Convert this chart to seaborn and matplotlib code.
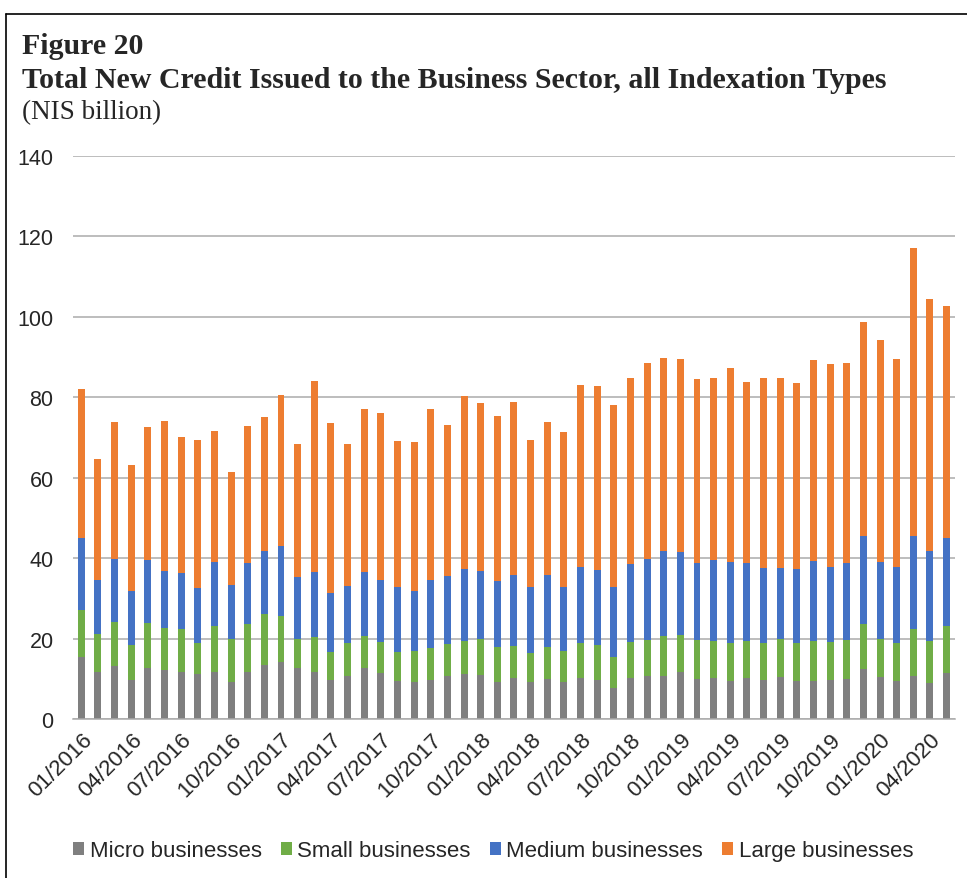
import numpy as np
import pandas as pd
import matplotlib.pyplot as plt
import seaborn as sns
from matplotlib.lines import Line2D
from matplotlib.patches import Patch

# monthly observations 01/2016 - 05/2020
months = pd.date_range('2016-01-01', '2020-05-01', freq='MS').strftime('%m/%Y').tolist()

# cumulative readings (top of each stacked segment)
micro_top = [15.5, 11.6, 13.3, 9.8, 12.8, 12.2, 11.6, 11.3, 11.6, 9.3, 11.7, 13.4,
             14.1, 12.8, 11.7, 9.8, 10.8, 12.6, 11.4, 9.5, 9.3, 9.8, 10.6, 11.1,
             11.0, 9.3, 10.3, 9.2, 10.0, 9.1, 10.3, 9.8, 7.6, 10.3, 10.6, 10.8,
             11.7, 9.9, 10.3, 9.4, 10.1, 9.8, 10.4, 9.5, 9.4, 9.8, 9.9, 12.4,
             10.4, 9.5, 10.8, 8.9, 11.5]
small_top = [27.2, 21.2, 24.1, 18.5, 23.8, 22.7, 22.3, 18.9, 23.0, 19.8, 23.7, 26.1,
             25.7, 20.0, 20.3, 16.6, 19.0, 20.6, 19.1, 16.6, 16.8, 17.6, 18.6, 19.4,
             19.9, 18.0, 18.1, 16.5, 18.0, 16.9, 19.0, 18.3, 15.3, 19.1, 19.7, 20.6,
             20.8, 19.7, 19.5, 18.8, 19.5, 18.8, 19.8, 18.8, 19.5, 19.1, 19.6, 23.6,
             20.0, 18.8, 22.3, 19.4, 23.1]
medium_top = [45.1, 34.6, 39.7, 31.9, 39.5, 36.9, 36.3, 32.5, 39.1, 33.3, 38.7, 41.7,
              43.0, 35.3, 36.5, 31.3, 33.1, 36.5, 34.6, 32.9, 31.8, 34.6, 35.5, 37.3,
              36.8, 34.4, 35.9, 32.7, 35.9, 32.7, 37.8, 37.1, 32.9, 38.5, 39.8, 41.8,
              41.6, 38.8, 39.5, 39.1, 38.8, 37.5, 37.6, 37.2, 39.3, 37.9, 38.8, 45.6,
              39.1, 37.7, 45.5, 41.7, 45.1]
total = [82.0, 64.6, 73.9, 63.1, 72.7, 74.2, 70.1, 69.3, 71.6, 61.3, 72.8, 75.2,
         80.6, 68.3, 84.1, 73.6, 68.5, 77.2, 76.0, 69.2, 68.9, 77.2, 73.1, 80.2,
         78.6, 75.4, 78.9, 69.4, 73.9, 71.3, 83.1, 82.8, 78.1, 84.8, 88.5, 89.8,
         89.4, 84.6, 84.8, 87.3, 83.8, 84.8, 84.7, 83.5, 89.2, 88.3, 88.5, 98.7,
         94.3, 89.5, 117.1, 104.5, 102.7]

series = ['Micro businesses', 'Small businesses', 'Medium businesses', 'Large businesses']
colors = ['#7F7F7F', '#70AD47', '#4472C4', '#ED7D31']

df = pd.DataFrame({'month': months, 'micro': micro_top, 'small': small_top,
                   'medium': medium_top, 'total': total})

sns.set_style('white')
plt.rcParams['font.family'] = ['Liberation Sans', 'DejaVu Sans']

fig = plt.figure(figsize=(9.67, 8.79), dpi=100)
ax = fig.add_axes([0.0755, 0.1809, 0.912, 0.6405])

# stacked bars drawn as overlapping cumulative bars, tallest first
for col, c in zip(['total', 'medium', 'small', 'micro'], colors[::-1]):
    sns.barplot(data=df, x='month', y=col, color=c, width=0.42, ax=ax,
                saturation=1, linewidth=0, order=months)

ax.set_ylim(0, 140)
ax.set_xlim(-0.5, len(months) - 0.5)
ax.set_yticks(range(0, 141, 20))
ax.yaxis.grid(True, color='#ABABAB', linewidth=1.1)
ax.set_axisbelow(True)
ax.tick_params(axis='y', length=0, labelsize=15.5, pad=14)
for s in ['top', 'right', 'left']:
    ax.spines[s].set_visible(False)
ax.spines['bottom'].set_color('#ABABAB')
ax.spines['bottom'].set_linewidth(1.1)
ax.set_xlabel('')
ax.set_ylabel('')

tick_pos = list(range(0, len(months), 3))
ax.set_xticks(tick_pos)
ax.set_xticklabels([months[i] for i in tick_pos], rotation=45, ha='right',
                   rotation_mode='anchor', fontsize=16)
ax.tick_params(axis='x', length=0, pad=7)
ax.set_xticks([p - 0.5 for p in tick_pos], minor=True)
ax.tick_params(axis='x', which='minor', length=6, color='#ABABAB', width=1.1)

handles = [Patch(facecolor=c, edgecolor='none') for c in colors]
fig.legend(handles, series, loc='center', bbox_to_anchor=(0.51, 0.031), ncol=4,
           frameon=False, fontsize=16, handlelength=0.5, handleheight=0.5,
           handletextpad=0.25, columnspacing=0.85)

fig.text(0.023, 0.938, 'Figure 20', family='Liberation Serif', weight='bold',
         fontsize=21.5, va='baseline')
fig.text(0.023, 0.900, 'Total New Credit Issued to the Business Sector, all Indexation Types',
         family='Liberation Serif', weight='bold', fontsize=21.5, va='baseline')
fig.text(0.023, 0.864, '(NIS billion)', family='Liberation Serif', fontsize=19.5,
         va='baseline')

# outer frame (top and left edges)
fig.add_artist(Line2D([0.006, 1.0], [0.983, 0.983], color='black', lw=1.2))
fig.add_artist(Line2D([0.006, 0.006], [0.0, 0.983], color='black', lw=1.2))

fig.savefig('out.png', dpi=100)
